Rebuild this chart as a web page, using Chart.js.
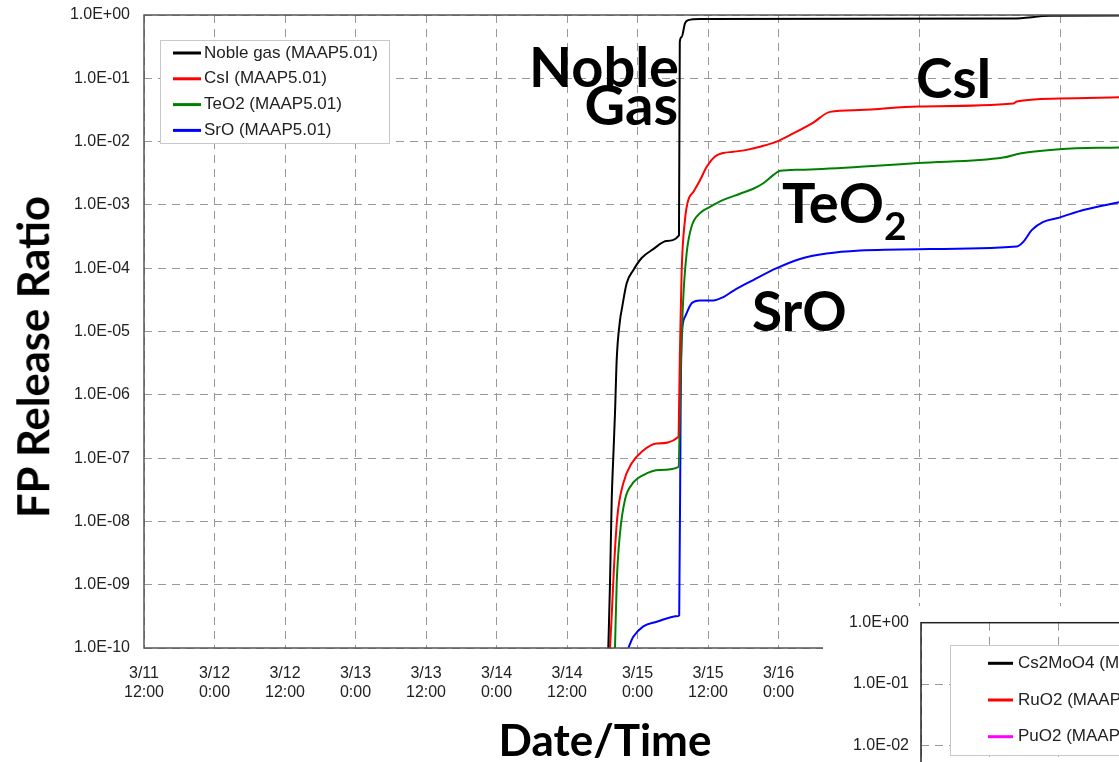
<!DOCTYPE html>
<html>
<head>
<meta charset="utf-8">
<title>FP Release Ratio</title>
<script src="https://cdn.jsdelivr.net/npm/chart.js@4/dist/chart.umd.min.js"></script>
<style>
html, body { margin: 0; padding: 0; background: #fff; overflow: hidden; }
#wrap { position: relative; width: 1119px; height: 762px; overflow: hidden; }
#mainChart { position: absolute; left: 0; top: 0; }
#insetChart { position: absolute; left: 823px; top: 606px; background: #fff; }
.lbl { position: absolute; font-family: Lato, "Open Sans", sans-serif; font-weight: 700; color: #000; line-height: 1; white-space: nowrap; }
</style>
</head>
<body>
<div id="wrap">
<canvas id="mainChart" width="1220" height="762"></canvas>
<canvas id="insetChart" width="420" height="670"></canvas>
<div class="lbl" style="font-size:56px; right:440px; top:38px;">Noble</div>
<div class="lbl" style="font-size:56px; right:441px; top:76px;">Gas</div>
<div class="lbl" style="font-size:55px; left:916px; top:50px;">CsI</div>
<div class="lbl" style="font-size:56px; left:782px; top:174px;">TeO<span style="font-size:39px; position:relative; top:17px;">2</span></div>
<div class="lbl" style="font-size:55px; left:752px; top:283px;">SrO</div>
<div class="lbl" style="font-size:43.5px; left:33px; top:357px; transform:translate(-50%,-50%) rotate(-90deg);">FP Release Ratio</div>
<div class="lbl" style="font-size:44px; left:605px; top:717px; transform:translateX(-50%);">Date/Time</div>
</div>
<script>
// hours counted from 3/11 0:00
var yTickValues = [1e-10, 1e-9, 1e-8, 1e-7, 1e-6, 1e-5, 1e-4, 1e-3, 1e-2, 1e-1, 1];
var hiddenGridHours = [132, 156];

var nobleHours = [91.03, 91.32, 91.61, 91.88, 92.17, 92.46, 93.02, 93.31, 94.16, 95.28, 96.71, 98.69, 100.97, 103.06, 103.2, 103.52, 104.08, 104.65, 106.64, 159.9, 166.2, 178];
var nobleRatio = [1.0e-10, 1.05e-9, 2.2e-8, 1.05e-7, 5.1e-7, 3.6e-6, 1.5e-5, 2.2e-5, 5.8e-5, 9.3e-5, 1.45e-4, 2.0e-4, 2.7e-4, 3.3e-4, 0.38, 0.45, 0.74, 0.83, 0.865, 0.88, 0.97, 0.98];

var csiHours = [91.32, 91.61, 92.0, 92.56, 93.58, 95.01, 96.71, 99.27, 102.94, 103.23, 103.52, 104.08, 104.65, 105.5, 106.64, 107.78, 109.19, 110.6, 112.3, 114.6, 116.85, 119.69, 122.52, 125.92, 128.77, 133.87, 143.8, 159.97, 160.55, 167.8, 177.96];
var csiRatio = [1.0e-10, 3.2e-10, 1.9e-9, 1.17e-8, 4.0e-8, 8.3e-8, 1.26e-7, 1.7e-7, 2.15e-7, 5.1e-6, 9.3e-5, 5.8e-4, 1.2e-3, 1.6e-3, 2.45e-3, 4.0e-3, 5.8e-3, 6.6e-3, 6.9e-3, 7.4e-3, 8.3e-3, 1.0e-2, 1.35e-2, 2.0e-2, 2.95e-2, 3.15e-2, 3.6e-2, 4.0e-2, 4.3e-2, 4.8e-2, 5.0e-2];

var teoHours = [92.17, 92.46, 93.02, 93.87, 95.01, 96.99, 99.83, 102.94, 103.45, 103.8, 104.37, 105.22, 106.64, 108.34, 110.6, 113.45, 115.71, 117.41, 119.11, 120.26, 123.66, 133.87, 143.8, 158.26, 161.1, 167.8, 177.96];
var teoRatio = [1.0e-10, 1.05e-9, 6.5e-9, 2.2e-8, 3.8e-8, 5.4e-8, 6.5e-8, 7.2e-8, 5.1e-6, 3.5e-5, 1.74e-4, 4.6e-4, 7.4e-4, 9.3e-4, 1.2e-3, 1.5e-3, 1.8e-3, 2.2e-3, 2.95e-3, 3.45e-3, 3.6e-3, 4.0e-3, 4.6e-3, 5.6e-3, 6.5e-3, 7.6e-3, 8.1e-3];

var sroHours = [94.43, 95.28, 96.99, 99.27, 102.94, 103.1, 103.35, 103.55, 104.08, 105.22, 106.64, 108.9, 110.6, 112.3, 115.71, 119.69, 123.66, 128.2, 133.87, 143.8, 160.55, 161.67, 163.1, 165.07, 167.8, 171.88, 177.96];
var sroRatio = [1.0e-10, 1.5e-10, 2.2e-10, 2.6e-10, 3.2e-10, 3.3e-10, 8e-7, 9e-6, 1.7e-5, 2.8e-5, 3.1e-5, 3.1e-5, 3.5e-5, 4.4e-5, 6.5e-5, 1.0e-4, 1.4e-4, 1.7e-4, 1.9e-4, 2.0e-4, 2.2e-4, 2.6e-4, 4.0e-4, 5.4e-4, 6.3e-4, 8.3e-4, 1.1e-3];

var insetLabels = ['Cs2MoO4 (MAAP5.01)', 'RuO2 (MAAP5.01)', 'PuO2 (MAAP5.01)'];
var insetColors = ['#000000', '#ff0000', '#ff00ff'];

function toPoints(xs, ys) {
    var pts = [];
    for (var i = 0; i < xs.length; i++) pts.push({ x: xs[i], y: ys[i] });
    return pts;
}

function sciLabel(v) {
    var e = Math.round(Math.log10(v));
    var a = Math.abs(e);
    return '1.0E' + (e < 0 ? '-' : '+') + (a < 10 ? '0' + a : '' + a);
}

function timeLabel(v) {
    var day = 11 + Math.floor(v / 24);
    var hr = v % 24;
    return ['3/' + day, hr + ':00'];
}

// keep the plot area where we put it, no extra room for edge labels
function noPad(scale) {
    scale.paddingTop = 0;
    scale.paddingBottom = 0;
    scale.paddingLeft = 0;
    scale.paddingRight = 0;
}

var tickFont = { family: '"Liberation Sans", Arial, sans-serif', size: 16 };

var frameLegendPlugin = {
    id: 'frameLegend',
    afterDatasetsDraw: function(chart, args, opts) {
        var ctx = chart.ctx;
        var a = chart.chartArea;
        ctx.save();
        ctx.strokeStyle = opts.frameColor;
        ctx.lineWidth = opts.frameWidth;
        ctx.strokeRect(a.left, a.top, a.right - a.left, a.bottom - a.top);
        var b = opts.box;
        ctx.fillStyle = '#fff';
        ctx.fillRect(b.x, b.y, b.w, b.h);
        ctx.strokeStyle = '#c8c8c8';
        ctx.lineWidth = 1;
        ctx.strokeRect(b.x + 0.5, b.y + 0.5, b.w, b.h);
        ctx.font = opts.font;
        ctx.textBaseline = 'middle';
        chart.data.datasets.forEach(function(ds, i) {
            var y = b.rowY + i * b.rowGap;
            ctx.strokeStyle = ds.borderColor;
            ctx.lineWidth = 3;
            ctx.beginPath();
            ctx.moveTo(b.lineX0, y);
            ctx.lineTo(b.lineX1, y);
            ctx.stroke();
            ctx.fillStyle = '#222';
            ctx.fillText(ds.label, b.textX, y);
        });
        ctx.restore();
    }
};

function lineSet(label, color, xs, ys) {
    return {
        label: label,
        data: toPoints(xs, ys),
        borderColor: color,
        backgroundColor: color,
        borderWidth: 2,
        pointRadius: 0,
        cubicInterpolationMode: 'monotone',
        fill: false
    };
}

new Chart(document.getElementById('mainChart'), {
    type: 'line',
    data: {
        datasets: [
            lineSet('Noble gas (MAAP5.01)', '#000000', nobleHours, nobleRatio),
            lineSet('CsI (MAAP5.01)', '#ff0000', csiHours, csiRatio),
            lineSet('TeO2 (MAAP5.01)', '#008000', teoHours, teoRatio),
            lineSet('SrO (MAAP5.01)', '#0000ff', sroHours, sroRatio)
        ]
    },
    plugins: [frameLegendPlugin],
    options: {
        responsive: false,
        animation: false,
        layout: { padding: { left: 0, top: 15, right: 18.5, bottom: 0 } },
        plugins: {
            legend: { display: false },
            tooltip: { enabled: false },
            frameLegend: {
                frameColor: '#555',
                frameWidth: 1.5,
                font: '17px "Liberation Sans", Arial, sans-serif',
                box: { x: 160, y: 40, w: 229, h: 103, rowY: 53, rowGap: 25.8, lineX0: 173, lineX1: 201, textX: 204 }
            }
        },
        scales: {
            x: {
                type: 'linear',
                min: 12,
                max: 192,
                afterFit: function(scale) { scale.height = 114; noPad(scale); },
                ticks: {
                    stepSize: 12,
                    padding: 16,
                    maxRotation: 0,
                    autoSkip: false,
                    color: '#222',
                    font: tickFont,
                    callback: function(v) { return timeLabel(v); }
                },
                grid: {
                    drawTicks: false,
                    lineWidth: 1,
                    color: function(c) {
                        return c.tick && hiddenGridHours.indexOf(c.tick.value) >= 0 ? 'rgba(0,0,0,0)' : '#999';
                    }
                },
                border: { display: false, dash: [8, 6] }
            },
            y: {
                type: 'logarithmic',
                min: 1e-10,
                max: 1,
                afterFit: function(scale) { scale.width = 144; noPad(scale); },
                afterBuildTicks: function(scale) {
                    scale.ticks = yTickValues.map(function(v) { return { value: v }; });
                },
                ticks: {
                    padding: 14,
                    color: '#222',
                    font: tickFont,
                    callback: function(v) { return sciLabel(v); }
                },
                grid: { drawTicks: false, color: '#999', lineWidth: 1 },
                border: { display: false, dash: [8, 6] }
            }
        }
    }
});

new Chart(document.getElementById('insetChart'), {
    type: 'line',
    data: {
        datasets: insetLabels.map(function(l, i) {
            return lineSet(l, insetColors[i], [], []);
        })
    },
    plugins: [frameLegendPlugin],
    options: {
        responsive: false,
        animation: false,
        layout: { padding: { left: 0, top: 16.7, right: 47.6, bottom: 0 } },
        plugins: {
            legend: { display: false },
            tooltip: { enabled: false },
            frameLegend: {
                frameColor: '#222',
                frameWidth: 1.5,
                font: '17px "Liberation Sans", Arial, sans-serif',
                box: { x: 127, y: 39, w: 400, h: 110, rowY: 57.3, rowGap: 36.7, lineX0: 165, lineX1: 190, textX: 195 }
            }
        },
        scales: {
            x: {
                type: 'linear',
                min: 0,
                max: 4,
                afterFit: function(scale) { scale.height = 40; noPad(scale); },
                ticks: { stepSize: 1, display: false },
                grid: { drawTicks: false, color: '#999' },
                border: { display: false, dash: [8, 6] }
            },
            y: {
                type: 'logarithmic',
                min: 1e-10,
                max: 1,
                afterFit: function(scale) { scale.width = 98; noPad(scale); },
                afterBuildTicks: function(scale) {
                    scale.ticks = yTickValues.map(function(v) { return { value: v }; });
                },
                ticks: {
                    padding: 12,
                    color: '#222',
                    font: tickFont,
                    callback: function(v) { return sciLabel(v); }
                },
                grid: { drawTicks: false, color: '#999' },
                border: { display: false, dash: [8, 6] }
            }
        }
    }
});
</script>
</body>
</html>
